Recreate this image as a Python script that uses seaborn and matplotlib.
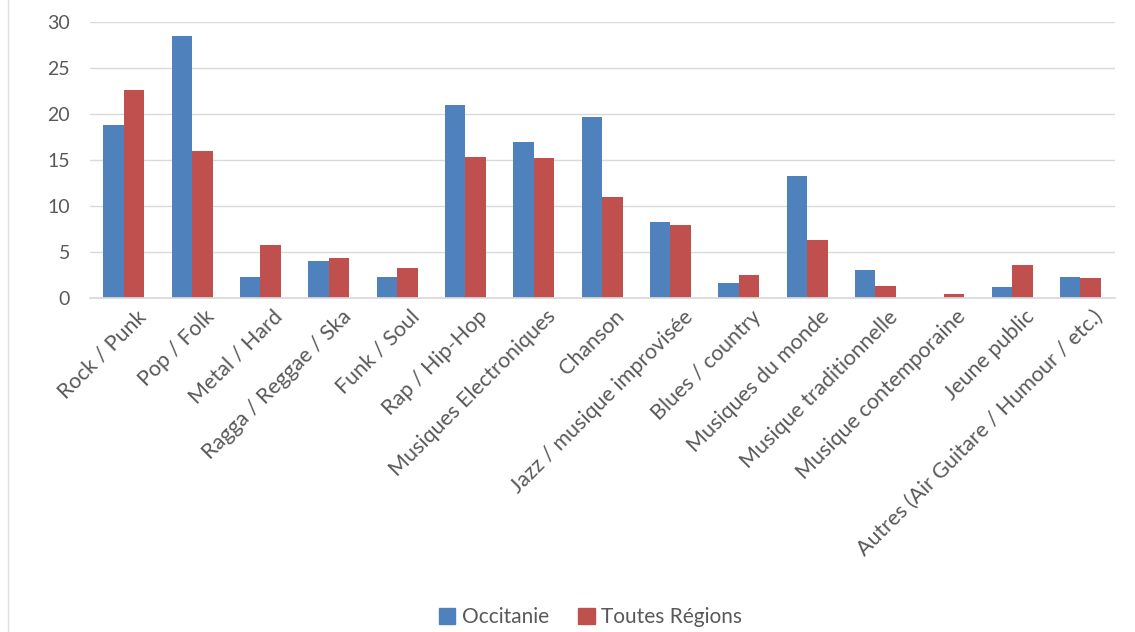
import pandas as pd
import seaborn as sns
import matplotlib.pyplot as plt
import matplotlib.patches as mpatches
import matplotlib.transforms as mtransforms

sns.set_theme(style="white")
plt.rcParams['font.family'] = ['Lato', 'DejaVu Sans']

genres = ['Rock / Punk', 'Pop / Folk', 'Metal / Hard', 'Ragga / Reggae / Ska',
          'Funk / Soul', 'Rap / Hip-Hop', 'Musiques Electroniques', 'Chanson',
          'Jazz / musique improvisée', 'Blues / country', 'Musiques du monde',
          'Musique traditionnelle', 'Musique contemporaine', 'Jeune public',
          'Autres (Air Guitare / Humour / etc.)']
occitanie = [18.8, 28.5, 2.3, 4.1, 2.3, 21.0, 17.0, 19.7, 8.3, 1.7, 13.3, 3.1, 0.0, 1.2, 2.3]
toutes = [22.6, 16.0, 5.8, 4.4, 3.3, 15.3, 15.2, 11.0, 8.0, 2.5, 6.3, 1.3, 0.5, 3.6, 2.2]
series = ['Occitanie', 'Toutes Régions']
colors = ['#4F81BD', '#C0504D']

df = pd.DataFrame({'Genre': genres * 2,
                   'Valeur': occitanie + toutes,
                   'Serie': [series[0]] * len(genres) + [series[1]] * len(genres)})

fig = plt.figure(figsize=(11.35, 6.32), dpi=100)
ax = fig.add_axes([0.079, 0.528, 0.903, 0.437])

sns.barplot(data=df, x='Genre', y='Valeur', hue='Serie', order=genres,
            hue_order=series, palette=colors, width=0.6, saturation=1,
            linewidth=0, ax=ax, legend=False)

ax.set_ylim(0, 30)
ax.set_yticks(range(0, 31, 5))
ax.set_xlim(-0.5, len(genres) - 0.5)
ax.yaxis.grid(True, color='#D9D9D9', linewidth=1)
ax.set_axisbelow(True)
for s in ['top', 'right', 'left']:
    ax.spines[s].set_visible(False)
ax.spines['bottom'].set_color('#D9D9D9')
ax.set_xlabel('')
ax.set_ylabel('')
ax.tick_params(axis='y', labelsize=14, labelcolor='#595959', length=0, pad=14)
ax.tick_params(axis='x', labelsize=15.5, labelcolor='#595959', length=0, pad=6)
plt.setp(ax.get_xticklabels(), rotation=45, ha='right', rotation_mode='anchor')

# nudge the rotated labels a bit to the right, like the original
shift = mtransforms.ScaledTranslation(12 / 100, 0, fig.dpi_scale_trans)
for lbl in ax.get_xticklabels():
    lbl.set_transform(lbl.get_transform() + shift)

handles = [mpatches.Patch(color=c, label=l) for c, l in zip(colors, series)]
fig.legend(handles=handles, loc='center', bbox_to_anchor=(0.52, 0.024), ncol=2,
           frameon=False, fontsize=15, labelcolor='#595959', handlelength=0.8,
           handleheight=0.8, handletextpad=0.3, columnspacing=1.4)

fig.add_artist(plt.Line2D([0.007, 0.007], [0.0, 1.0], color='#E0E0E0', linewidth=1))

plt.savefig('out.png', dpi=100)
